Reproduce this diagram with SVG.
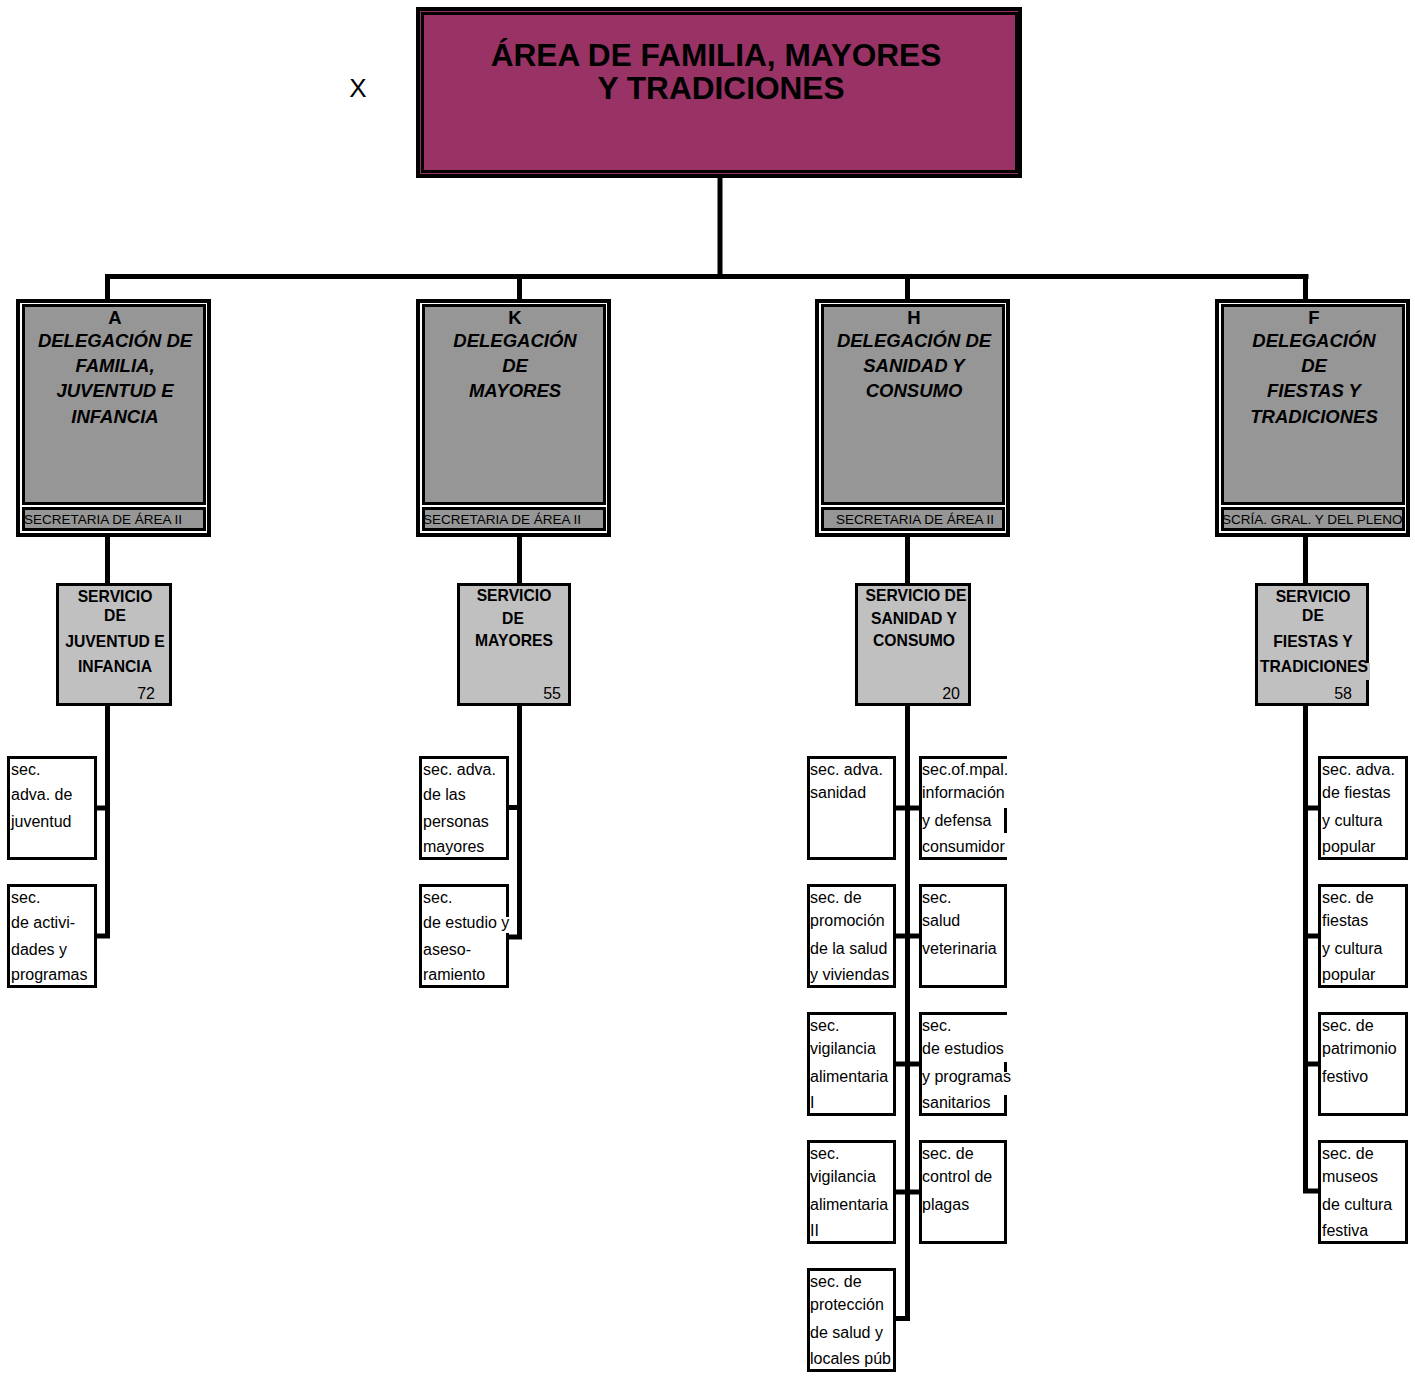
<svg xmlns="http://www.w3.org/2000/svg" width="1415" height="1377" viewBox="0 0 1415 1377">
<style>
text{font-family:"Liberation Sans",Arial,sans-serif;fill:#000}
.title{font-size:31.6px;font-weight:bold;text-anchor:middle}
.x{font-size:26px;text-anchor:middle}
.dframe{fill:#fff;stroke:#000;stroke-width:4}
.dbox{fill:#969696;stroke:#000;stroke-width:3}
.dletter{font-size:18.5px;font-weight:bold;text-anchor:middle}
.dtitle{font-size:18.5px;font-weight:bold;font-style:italic;text-anchor:middle}
.dsec{font-size:13.5px}
.svc{fill:#c0c0c0;stroke:#000;stroke-width:3}
.st{font-size:15.7px;font-weight:bold;text-anchor:middle}
.num{font-size:16px;text-anchor:end}
.leaf{fill:#fff;stroke:#000;stroke-width:3}
.lt{font-size:16px}
.conn{fill:none;stroke:#000;stroke-width:5}
</style>

<text class="x" x="358" y="97">X</text>

<g id="area">
<rect x="418" y="9" width="602" height="167" fill="#993366" stroke="#000" stroke-width="4"/>
<rect x="422.5" y="13.5" width="594" height="158" fill="none" stroke="#000" stroke-width="3"/>
<text class="title" x="716" y="66">ÁREA DE FAMILIA, MAYORES</text>
<text class="title" x="721" y="99">Y TRADICIONES</text>
</g>

<g id="connectors">
<path class="conn" d="M720 178V277"/>
<path class="conn" stroke-width="6" d="M105 276.5H1308.5"/>
<path class="conn" d="M107.5 276V300M519.5 276V300M907.5 276V300M1305.5 276V300"/>
<path class="conn" d="M107.5 536V584M519.5 536V584M907.5 536V584M1305.5 536V584"/>
<path class="conn" d="M107.5 705V938.5M97 808H110M97 936H110"/>
<path class="conn" d="M519.5 705V939.5M508 807.5H522M508 937H522"/>
<path class="conn" d="M907.5 705V1321M895 808H920M895 936H920M895 1064H920M895 1192H920M895 1318.5H910"/>
<path class="conn" d="M1305.5 705V1193.5M1303 808H1319M1303 936H1319M1303 1064H1319M1303 1191H1319"/>
</g>

<g id="del-A">
<rect class="dframe" x="18" y="301" width="191" height="234"/>
<rect class="dbox" x="23.5" y="305.5" width="181" height="198"/>
<rect class="dbox" x="23.5" y="508.5" width="181" height="21"/>
<text class="dletter" x="115" y="324">A</text>
<text class="dtitle" x="115" y="347">DELEGACIÓN DE</text>
<text class="dtitle" x="115" y="372">FAMILIA,</text>
<text class="dtitle" x="115" y="397">JUVENTUD E</text>
<text class="dtitle" x="115" y="423">INFANCIA</text>
<text class="dsec" x="24" y="524">SECRETARIA DE ÁREA II</text>
</g>

<g id="del-K">
<rect class="dframe" x="418" y="301" width="191" height="234"/>
<rect class="dbox" x="423.5" y="305.5" width="181" height="198"/>
<rect class="dbox" x="423.5" y="508.5" width="181" height="21"/>
<text class="dletter" x="515" y="324">K</text>
<text class="dtitle" x="515" y="347">DELEGACIÓN</text>
<text class="dtitle" x="515" y="372">DE</text>
<text class="dtitle" x="515" y="397">MAYORES</text>
<text class="dsec" x="423" y="524">SECRETARIA DE ÁREA II</text>
</g>

<g id="del-H">
<rect class="dframe" x="817" y="301" width="191" height="234"/>
<rect class="dbox" x="822.5" y="305.5" width="181" height="198"/>
<rect class="dbox" x="822.5" y="508.5" width="181" height="21"/>
<text class="dletter" x="914" y="324">H</text>
<text class="dtitle" x="914" y="347">DELEGACIÓN DE</text>
<text class="dtitle" x="914" y="372">SANIDAD Y</text>
<text class="dtitle" x="914" y="397">CONSUMO</text>
<text class="dsec" x="915" y="524" text-anchor="middle">SECRETARIA DE ÁREA II</text>
</g>

<g id="del-F">
<rect class="dframe" x="1217" y="301" width="191" height="234"/>
<rect class="dbox" x="1222.5" y="305.5" width="181" height="198"/>
<rect class="dbox" x="1222.5" y="508.5" width="181" height="21"/>
<text class="dletter" x="1314" y="324">F</text>
<text class="dtitle" x="1314" y="347">DELEGACIÓN</text>
<text class="dtitle" x="1314" y="372">DE</text>
<text class="dtitle" x="1314" y="397">FIESTAS Y</text>
<text class="dtitle" x="1314" y="423">TRADICIONES</text>
<text class="dsec" x="1222" y="524">SCRÍA. GRAL. Y DEL PLENO</text>
</g>

<g id="svc-A">
<rect class="svc" x="57.5" y="584.5" width="113" height="120"/>
<text class="st" x="115" y="602">SERVICIO</text>
<text class="st" x="115" y="621">DE</text>
<text class="st" x="115" y="647">JUVENTUD E</text>
<text class="st" x="115" y="672">INFANCIA</text>
<text class="num" x="155" y="699">72</text>
</g>

<g id="svc-K">
<rect class="svc" x="458.5" y="584.5" width="111" height="120"/>
<text class="st" x="514" y="601">SERVICIO</text>
<text class="st" x="513" y="624">DE</text>
<text class="st" x="514" y="646">MAYORES</text>
<text class="num" x="561" y="699">55</text>
</g>

<g id="svc-H">
<rect class="svc" x="856.5" y="584.5" width="113" height="120"/>
<text class="st" x="916" y="601">SERVICIO DE</text>
<text class="st" x="914" y="624">SANIDAD Y</text>
<text class="st" x="914" y="646">CONSUMO</text>
<text class="num" x="960" y="699">20</text>
</g>

<g id="svc-F">
<rect class="svc" x="1256.5" y="584.5" width="111" height="120"/>
<rect x="1365" y="663" width="5" height="17" fill="#c0c0c0"/>
<text class="st" x="1313" y="602">SERVICIO</text>
<text class="st" x="1313" y="621">DE</text>
<text class="st" x="1313" y="647">FIESTAS Y</text>
<text class="st" x="1314" y="672">TRADICIONES</text>
<text class="num" x="1352" y="699">58</text>
</g>

<g id="leaf-A1">
<rect class="leaf" x="8.5" y="757.5" width="87" height="101"/>
<text class="lt" x="11" y="775">sec.</text>
<text class="lt" x="11" y="800">adva. de</text>
<text class="lt" x="11" y="827">juventud</text>
</g>
<g id="leaf-A2">
<rect class="leaf" x="8.5" y="885.5" width="87" height="101"/>
<text class="lt" x="11" y="903">sec.</text>
<text class="lt" x="11" y="928">de activi-</text>
<text class="lt" x="11" y="955">dades y</text>
<text class="lt" x="11" y="980">programas</text>
</g>

<g id="leaf-K1">
<rect class="leaf" x="420.5" y="757.5" width="87" height="101"/>
<text class="lt" x="423" y="775">sec. adva.</text>
<text class="lt" x="423" y="800">de las</text>
<text class="lt" x="423" y="827">personas</text>
<text class="lt" x="423" y="852">mayores</text>
</g>
<g id="leaf-K2">
<rect class="leaf" x="420.5" y="885.5" width="87" height="101"/>
<rect x="505" y="917" width="5" height="16" fill="#fff"/>
<text class="lt" x="423" y="903">sec.</text>
<text class="lt" x="423" y="928">de estudio y</text>
<text class="lt" x="423" y="955">aseso-</text>
<text class="lt" x="423" y="980">ramiento</text>
</g>

<g id="leaf-H1L">
<rect class="leaf" x="808.5" y="757.5" width="86" height="101"/>
<text class="lt" x="810" y="775">sec. adva.</text>
<text class="lt" x="810" y="798">sanidad</text>
</g>
<g id="leaf-H1R">
<rect class="leaf" x="920.5" y="757.5" width="85" height="101"/>
<rect x="1003" y="759" width="5" height="49" fill="#fff"/>
<rect x="1003" y="833" width="5" height="24" fill="#fff"/>
<text class="lt" x="922" y="775">sec.of.mpal.</text>
<text class="lt" x="922" y="798">información</text>
<text class="lt" x="922" y="826">y defensa</text>
<text class="lt" x="922" y="852">consumidor</text>
</g>
<g id="leaf-H2L">
<rect class="leaf" x="808.5" y="885.5" width="86" height="101"/>
<text class="lt" x="810" y="903">sec. de</text>
<text class="lt" x="810" y="926">promoción</text>
<text class="lt" x="810" y="954">de la salud</text>
<text class="lt" x="810" y="980">y viviendas</text>
</g>
<g id="leaf-H2R">
<rect class="leaf" x="920.5" y="885.5" width="85" height="101"/>
<text class="lt" x="922" y="903">sec.</text>
<text class="lt" x="922" y="926">salud</text>
<text class="lt" x="922" y="954">veterinaria</text>
</g>
<g id="leaf-H3L">
<rect class="leaf" x="808.5" y="1013.5" width="86" height="101"/>
<text class="lt" x="810" y="1031">sec.</text>
<text class="lt" x="810" y="1054">vigilancia</text>
<text class="lt" x="810" y="1082">alimentaria</text>
<text class="lt" x="810" y="1108">I</text>
</g>
<g id="leaf-H3R">
<rect class="leaf" x="920.5" y="1013.5" width="85" height="101"/>
<rect x="1003" y="1015" width="5" height="47" fill="#fff"/>
<rect x="1003" y="1072" width="5" height="23" fill="#fff"/>
<text class="lt" x="922" y="1031">sec.</text>
<text class="lt" x="922" y="1054">de estudios</text>
<text class="lt" x="922" y="1082">y programas</text>
<text class="lt" x="922" y="1108">sanitarios</text>
</g>
<g id="leaf-H4L">
<rect class="leaf" x="808.5" y="1141.5" width="86" height="101"/>
<text class="lt" x="810" y="1159">sec.</text>
<text class="lt" x="810" y="1182">vigilancia</text>
<text class="lt" x="810" y="1210">alimentaria</text>
<text class="lt" x="810" y="1236">II</text>
</g>
<g id="leaf-H4R">
<rect class="leaf" x="920.5" y="1141.5" width="85" height="101"/>
<text class="lt" x="922" y="1159">sec. de</text>
<text class="lt" x="922" y="1182">control de</text>
<text class="lt" x="922" y="1210">plagas</text>
</g>
<g id="leaf-H5L">
<rect class="leaf" x="808.5" y="1269.5" width="86" height="101"/>
<text class="lt" x="810" y="1287">sec. de</text>
<text class="lt" x="810" y="1310">protección</text>
<text class="lt" x="810" y="1338">de salud y</text>
<text class="lt" x="810" y="1364">locales púb</text>
</g>

<g id="leaf-F1">
<rect class="leaf" x="1319.5" y="757.5" width="87" height="101"/>
<text class="lt" x="1322" y="775">sec. adva.</text>
<text class="lt" x="1322" y="798">de fiestas</text>
<text class="lt" x="1322" y="826">y cultura</text>
<text class="lt" x="1322" y="852">popular</text>
</g>
<g id="leaf-F2">
<rect class="leaf" x="1319.5" y="885.5" width="87" height="101"/>
<text class="lt" x="1322" y="903">sec. de</text>
<text class="lt" x="1322" y="926">fiestas</text>
<text class="lt" x="1322" y="954">y cultura</text>
<text class="lt" x="1322" y="980">popular</text>
</g>
<g id="leaf-F3">
<rect class="leaf" x="1319.5" y="1013.5" width="87" height="101"/>
<text class="lt" x="1322" y="1031">sec. de</text>
<text class="lt" x="1322" y="1054">patrimonio</text>
<text class="lt" x="1322" y="1082">festivo</text>
</g>
<g id="leaf-F4">
<rect class="leaf" x="1319.5" y="1141.5" width="87" height="101"/>
<text class="lt" x="1322" y="1159">sec. de</text>
<text class="lt" x="1322" y="1182">museos</text>
<text class="lt" x="1322" y="1210">de cultura</text>
<text class="lt" x="1322" y="1236">festiva</text>
</g>
</svg>
